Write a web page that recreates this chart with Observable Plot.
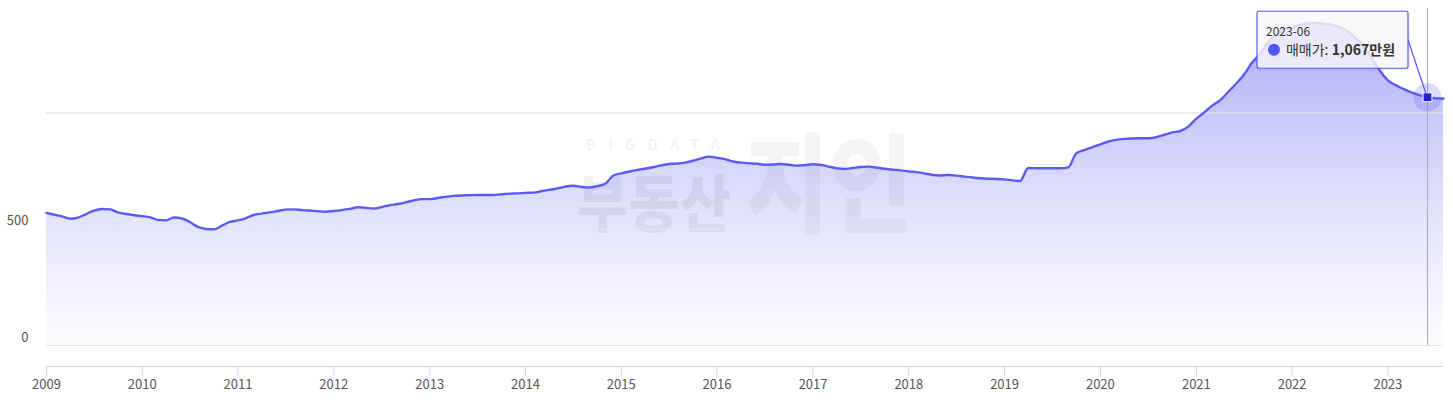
<!DOCTYPE html>
<html>
<head>
<meta charset="utf-8">
<script src="https://cdn.jsdelivr.net/npm/d3@7"></script>
<script src="https://cdn.jsdelivr.net/npm/@observablehq/plot@0.6"></script>
<style>
  html, body { margin: 0; padding: 0; background: #fff; }
  #chart { position: relative; width: 1453px; height: 407px; }
</style>
</head>
<body>
<div id="chart"></div>
<script>
// ---- data (monthly average sale price, 만원) ----
const startMonth = "2009-01";
const endDomain = "2023-08";
const prices = [
  570, 562, 555, 545, 550, 565, 580, 587, 585, 572, 565, 560,          // 2009
  556, 551, 540, 538, 550, 546, 531, 510, 501, 499, 515, 531,          // 2010
  538, 548, 561, 567, 572, 578, 584, 585, 582, 580, 577, 575,          // 2011
  578, 582, 587, 594, 592, 589, 595, 603, 608, 615, 624, 629,          // 2012
  629, 634, 639, 643, 645, 646, 647, 647, 647, 650, 653, 654,          // 2013
  656, 657, 663, 669, 675, 683, 687, 682, 679, 685, 695, 730,          // 2014
  740, 748, 754, 760, 766, 774, 780, 782, 786, 794, 804, 812,          // 2015
  807, 801, 791, 786, 783, 781, 777, 778, 780, 777, 773, 775,          // 2016
  779, 776, 769, 762, 759, 763, 767, 769, 764, 760, 756, 753,          // 2017
  748, 745, 740, 733, 731, 733, 730, 726, 722, 719, 717, 716,          // 2018
  714, 710, 707, 763, 762, 762, 762, 762, 766, 826, 840, 852,          // 2019
  865, 877, 884, 888, 890, 891, 891, 895, 906, 916, 922, 941,          // 2020
  975, 1003, 1030, 1053, 1088, 1125, 1164, 1215, 1255, 1302, 1338, 1362, // 2021
  1368, 1378, 1385, 1387, 1383, 1378, 1368, 1350, 1320, 1286, 1235, 1182, // 2022
  1140, 1118, 1103, 1088, 1076, 1067, 1063, 1062                        // 2023
];
const yearTicks = ["2009","2010","2011","2012","2013","2014","2015","2016","2017","2018","2019","2020","2021","2022","2023"];
const yLabelTicks = [0, 500];
const yGridTicks = [0, 500, 1000];
const hoverMonth = "2023-06";
const seriesName = "매매가";
const unit = "만원";

// ---- build table ----
const parseMonth = d3.utcParse("%Y-%m");
const x0 = parseMonth(startMonth);
const data = prices.map((v, i) => ({ date: d3.utcMonth.offset(x0, i), value: v }));
const xDomain = [x0, parseMonth(endDomain)];
const yDomain = [-90.3, 1483];
const yearDates = yearTicks.map(d => d3.utcParse("%Y")(d));
const hoverDate = parseMonth(hoverMonth);
const hover = data.find(d => +d.date === +hoverDate);

const lineColor = "#5a5af5";
const curve = "monotone-x";
const font = "'Noto Sans CJK KR', 'Noto Sans', sans-serif";

const defs = () => {
  const g = d3.create("svg:defs");
  const lg = g.append("linearGradient").attr("id", "areaGrad")
    .attr("x1", 0).attr("y1", 0).attr("x2", 0).attr("y2", 1);
  lg.append("stop").attr("offset", "0%").attr("stop-color", "#5a5af0").attr("stop-opacity", 0.5);
  lg.append("stop").attr("offset", "55%").attr("stop-color", "#6e6ef2").attr("stop-opacity", 0.22);
  lg.append("stop").attr("offset", "100%").attr("stop-color", "#8080f5").attr("stop-opacity", 0.02);
  return g.node();
};

const chart = Plot.plot({
  width: 1453,
  height: 407,
  marginTop: 0,
  marginBottom: 41,
  marginLeft: 46,
  marginRight: 10,
  style: { fontFamily: font, background: "transparent", overflow: "visible" },
  x: { type: "utc", domain: xDomain },
  y: { domain: yDomain, axis: null },
  marks: [
    defs,
    Plot.areaY(data, { x: "date", y: "value", fill: "url(#areaGrad)", curve }),
    Plot.ruleY(yGridTicks, { stroke: "#e3e3e6", strokeWidth: 1.2 }),
    Plot.ruleX([hoverDate], { y1: yDomain[1], y2: 0, insetTop: 8, stroke: "#a8a8b0", strokeWidth: 1 }),
    Plot.lineY(data, { x: "date", y: "value", stroke: lineColor, strokeWidth: 2.4, curve }),
    Plot.ruleY([yDomain[0]], { stroke: "#ccd6eb", strokeWidth: 1 }),
    Plot.axisX({ ticks: yearDates, tickFormat: d3.utcFormat("%Y"), tickSize: 10, tickPadding: 3,
      stroke: "#ccd6eb", fill: "#555", fontSize: 13 }),
    Plot.text(yLabelTicks, { x: () => x0, y: d => d, text: d => String(d), textAnchor: "end",
      dx: -18, dy: -8, fill: "#555", fontSize: 13 }),
    Plot.dot([hover], { x: "date", y: "value", r: 14, fill: lineColor, fillOpacity: 0.22, stroke: "none" }),
    Plot.dot([hover], { x: "date", y: "value", r: 5, symbol: "square", fill: "#2323c8", stroke: "#fff", strokeWidth: 1 })
  ]
});

// ---- watermark (decorative) ----
const svg = d3.select(chart);
const wm = svg.insert("g", ":nth-child(4)").attr("pointer-events", "none")
  .attr("text-anchor", "start")
  .attr("font-family", font).attr("fill", "#4a4a68");
wm.append("text").attr("x", 586).attr("y", 150).attr("font-size", 15).attr("font-weight", 700)
  .attr("fill-opacity", 0.07)
  .attr("textLength", 134).attr("lengthAdjust", "spacing").text("BIGDATA");
wm.append("text").attr("x", 577).attr("y", 227).attr("font-size", 62).attr("font-weight", 900)
  .attr("fill-opacity", 0.085)
  .attr("textLength", 154).attr("lengthAdjust", "spacingAndGlyphs").text("부동산");
wm.append("text").attr("x", 745).attr("y", 224).attr("font-size", 108).attr("font-weight", 900)
  .attr("fill-opacity", 0.06)
  .attr("textLength", 168).attr("lengthAdjust", "spacingAndGlyphs").text("지인");

// ---- tooltip anchored to the hovered point via the scales ----
const px = chart.scale("x").apply(hover.date);
const py = chart.scale("y").apply(hover.value);
const tip = svg.append("g").attr("font-family", font).attr("text-anchor", "start");
tip.append("line").attr("x1", px - 19).attr("y1", py - 57).attr("x2", px - 1).attr("y2", py - 3)
  .attr("stroke", lineColor).attr("stroke-width", 1.2);
tip.append("rect").attr("x", px - 168).attr("y", py - 83).attr("width", 151).attr("height", 57)
  .attr("rx", 2).attr("fill", "#000").attr("fill-opacity", 0.06);
tip.append("rect").attr("x", px - 170).attr("y", py - 85.5).attr("width", 151).attr("height", 57)
  .attr("rx", 2).attr("fill", "rgba(250,250,252,0.8)").attr("stroke", lineColor).attr("stroke-width", 1.2);
tip.append("text").attr("x", px - 161).attr("y", py - 61).attr("font-size", 12).attr("fill", "#333")
  .text(hoverMonth);
tip.append("circle").attr("cx", px - 153).attr("cy", py - 47).attr("r", 6).attr("fill", "#5555ff");
const t2 = tip.append("text").attr("x", px - 141).attr("y", py - 42).attr("font-size", 14).attr("fill", "#333");
t2.append("tspan").text(seriesName + ": ");
t2.append("tspan").attr("font-weight", 700).text(d3.format(",")(hover.value) + unit);

document.getElementById("chart").appendChild(chart);
</script>
</body>
</html>
